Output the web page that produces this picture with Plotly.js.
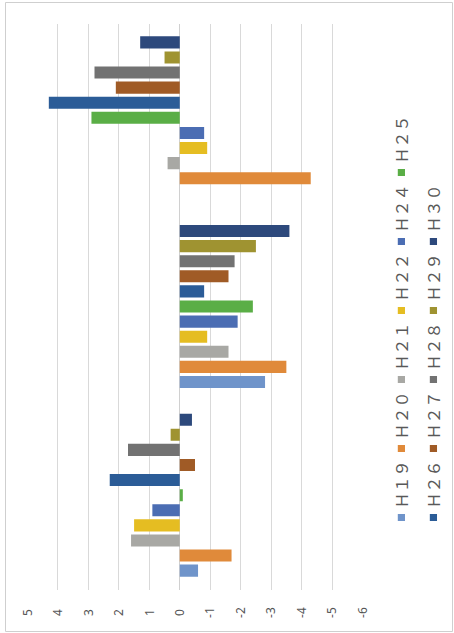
<!DOCTYPE html>
<html>
<head>
<meta charset="utf-8">
<script src="https://cdn.plot.ly/plotly-3.0.1.min.js"></script>
<style>
html,body{margin:0;padding:0;width:454px;height:633px;overflow:hidden;background:#fff;}
#chart{position:absolute;width:633px;height:454px;left:-89.5px;top:89.5px;transform:rotate(-90deg);transform-origin:50% 50%;}
#chart .legendpoints path{transform:translate(31px,0px) scale(0.6);}
#chart .ytick text{text-anchor:middle;}
#chart .scrollbox{clip-path:none !important;}
</style>
</head>
<body>
<div id="chart"></div>
<script>
// Categories (no labels are shown on the chart)
const categories = ['A', 'B', 'C'];

// Series names (legend)
const seriesNames = ['Ｈ１９','Ｈ２０','Ｈ２１','Ｈ２２','Ｈ２４','Ｈ２５','Ｈ２６','Ｈ２７','Ｈ２８','Ｈ２９','Ｈ３０'];

// Series values per category
const H19 = [-0.6, -2.8, null];
const H20 = [-1.7, -3.5, -4.3];
const H21 = [1.6, -1.6, 0.4];
const H22 = [1.5, -0.9, -0.9];
const H24 = [0.9, -1.9, -0.8];
const H25 = [-0.1, -2.4, 2.9];
const H26 = [2.3, -0.8, 4.3];
const H27 = [-0.5, -1.6, 2.1];
const H28 = [1.7, -1.8, 2.8];
const H29 = [0.3, -2.5, 0.5];
const H30 = [-0.4, -3.6, 1.3];

// Value-axis tick labels
const tickValues = [5, 4, 3, 2, 1, 0, -1, -2, -3, -4, -5, -6];
const tickLabels = ['5','4','3','2','1','0','-1','-2','-3','-4','-5','-6'];

const seriesValues = [H19, H20, H21, H22, H24, H25, H26, H27, H28, H29, H30];
const colors = ['#6f94ca','#e08a3a','#a8a8a4','#e5bd22','#4b6db3','#5aae46','#2b5c97','#a05b26','#727272','#9f9331','#2d497c'];

const traces = seriesValues.map((vals, i) => ({
  type: 'bar',
  name: seriesNames[i],
  x: categories,
  y: vals,
  marker: {color: colors[i], line: {width: 0}},
  legend: i < 6 ? 'legend' : 'legend2'
}));

const legendFont = {family: '"Noto Sans CJK JP", "Noto Sans", sans-serif', size: 16, color: '#595959'};

const layout = {
  width: 633,
  height: 454,
  margin: {l: 44, r: 23, t: 27, b: 92, autoexpand: false},
  paper_bgcolor: '#ffffff',
  plot_bgcolor: '#ffffff',
  barmode: 'group',
  bargap: 0.12,
  bargroupgap: 0.2,
  showlegend: true,
  xaxis: {
    type: 'category',
    showticklabels: false,
    showgrid: false,
    zeroline: false,
    showline: false,
    ticks: ''
  },
  yaxis: {
    range: [-6, 5],
    tickvals: tickValues,
    ticktext: tickLabels,
    showgrid: true,
    gridcolor: '#d9d9d9',
    gridwidth: 1,
    zeroline: true,
    zerolinecolor: '#d0d0d0',
    zerolinewidth: 1,
    showline: false,
    ticks: '',
    ticklabelstandoff: 22,
    tickfont: {family: '"Noto Sans", sans-serif', size: 12, color: '#555555'}
  },
  legend: {
    orientation: 'h',
    x: 0.0724, xanchor: 'left',
    y: -0.1164, yanchor: 'middle',
    entrywidth: 24, entrywidthmode: 'pixels',
    font: legendFont,
    bgcolor: 'rgba(0,0,0,0)',
    traceorder: 'normal'
  },
  legend2: {
    orientation: 'h',
    x: 0.0724, xanchor: 'left',
    y: -0.212, yanchor: 'middle',
    entrywidth: 24, entrywidthmode: 'pixels',
    font: legendFont,
    bgcolor: 'rgba(0,0,0,0)',
    traceorder: 'normal'
  },
  shapes: [{
    type: 'rect', xref: 'paper', yref: 'paper',
    x0: -0.0742, x1: 1.0371, y0: -0.2687, y1: 1.0657,
    line: {color: '#cfcfcf', width: 1},
    fillcolor: 'rgba(0,0,0,0)'
  }]
};

Plotly.newPlot('chart', traces, layout, {staticPlot: true, displayModeBar: false});
</script>
</body>
</html>
